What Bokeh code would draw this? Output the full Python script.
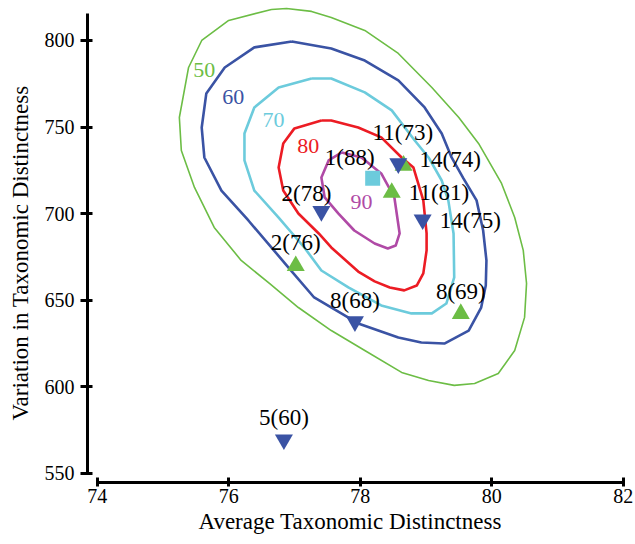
from bokeh.plotting import figure
from bokeh.models import Range1d, ColumnDataSource, Title
from bokeh.core.properties import value, field
from bokeh.embed import file_html
from bokeh.resources import INLINE

# ---------------- data ----------------
x_ticks = [74, 76, 78, 80, 82]
y_ticks = [550, 600, 650, 700, 750, 800]
x_title = "Average Taxonomic Distinctness"
y_title = "Variation in Taxonomic Distinctness"

contour_levels = ["50", "60", "70", "80", "90"]

c50_x = [76.65, 76.88, 77.26, 77.56, 78.07, 78.58, 79.09, 79.50, 79.80, 80.15, 80.35, 80.48,
         80.53, 80.50, 80.35, 80.10, 79.74, 79.43, 79.04, 78.63, 78.07, 77.56, 77.06, 76.62,
         76.19, 75.78, 75.48, 75.28, 75.25, 75.39, 75.59, 76.00, 76.65]
c50_y = [817.9, 818.5, 816.8, 813.3, 805.8, 792.5, 772.8, 755.5, 740.5, 717.4, 697.7, 678.7,
         659.6, 640.0, 620.9, 607.6, 601.8, 600.7, 603.5, 608.2, 620.9, 632.4, 645.7, 659.6,
         672.9, 692.0, 715.1, 736.4, 755.5, 784.4, 800.0, 811.6, 817.9]

c60_x = [76.96, 77.56, 78.07, 78.58, 78.98, 79.24, 79.39, 79.57, 79.77, 79.87, 79.92, 79.91,
         79.84, 79.65, 79.28, 78.93, 78.58, 77.97, 77.30, 76.91, 76.30, 75.89, 75.63, 75.59,
         75.66, 75.94, 76.39, 76.96]
c60_y = [799.4, 795.4, 788.4, 776.9, 761.3, 746.3, 732.4, 720.3, 707.6, 690.2, 672.9, 658.4,
         645.7, 632.4, 624.9, 625.5, 628.4, 636.5, 651.5, 668.8, 696.0, 713.3, 732.4, 749.7,
         769.4, 784.4, 796.0, 799.4]

c70_x = [77.26, 77.56, 78.07, 78.48, 78.83, 79.04, 79.24, 79.34, 79.42, 79.43, 79.31, 79.09,
         78.78, 78.32, 77.82, 77.41, 77.15, 76.76, 76.39, 76.24, 76.24, 76.39, 76.76, 77.26]
c70_y = [778.0, 778.0, 770.0, 759.6, 742.2, 732.4, 719.1, 707.6, 688.5, 663.1, 648.0, 642.3,
         642.3, 646.9, 657.3, 667.1, 680.4, 697.7, 713.3, 730.7, 746.3, 761.3, 772.8, 778.0]

c80_x = [77.41, 77.56, 77.97, 78.32, 78.63, 78.81, 78.96, 79.01, 79.01, 78.96, 78.86, 78.67,
         78.45, 78.22, 77.97, 77.56, 77.37, 77.06, 76.83, 76.76, 76.83, 77.00, 77.41]
c80_y = [753.8, 753.8, 749.7, 744.0, 732.4, 726.6, 707.6, 688.5, 678.7, 665.4, 658.4, 655.6,
         657.3, 660.8, 666.5, 680.4, 688.5, 700.0, 713.3, 726.6, 740.5, 749.2, 753.8]

c90_x = [77.72, 78.02, 78.32, 78.52, 78.60, 78.54, 78.42, 78.22, 77.91, 77.67, 77.46, 77.41,
         77.52, 77.72]
c90_y = [735.3, 732.4, 723.2, 709.3, 688.5, 681.5, 679.8, 682.7, 690.2, 700.0, 709.3, 720.8,
         730.7, 735.3]

contour_label_x = [75.63, 76.07, 76.68, 77.21, 78.02]
contour_label_y = [782.7, 767.1, 753.8, 738.8, 706.4]

point_labels = ["1(88)", "11(73)", "14(74)", "11(81)", "14(75)",
                "2(78)", "2(76)", "8(68)", "8(69)", "5(60)"]
point_x = [78.19, 78.58, 78.66, 78.48, 78.95, 77.41, 77.02, 77.92, 79.53, 76.84]
point_y = [720.4, 728.9, 727.8, 712.1, 696.5, 701.3, 669.8, 637.6, 642.1, 569.4]
point_group = ["mean", "down", "up", "up", "down", "down", "up", "down", "up", "down"]

# ---------------- layout / style ----------------
label_dx = [-23, 4.5, 16, 17, 17, -15, 0, 0, 0, 0]
label_dy = [-21, -31, -6, 0, 1, -18, -23, -21, -22, -22]
label_align = ["center", "center", "left", "left", "left",
               "center", "center", "center", "center", "center"]

GREEN = "#6cbd45"
BLUE = "#3a53a4"
CYAN = "#6ccbdc"
RED = "#ec1c24"
MAGENTA = "#b04aa6"
FONT = "Liberation Serif"

p = figure(width=635, height=544, output_backend="svg", toolbar_location=None,
           x_range=Range1d(73.853, 82.187), y_range=Range1d(544.6, 823.1),
           min_border_left=86, min_border_right=0, min_border_top=0, min_border_bottom=62)
p.outline_line_color = None
p.grid.visible = False
p.background_fill_color = "white"

contours = [(c50_x, c50_y, GREEN, 1.6), (c60_x, c60_y, BLUE, 2.6), (c70_x, c70_y, CYAN, 2.6),
            (c80_x, c80_y, RED, 2.6), (c90_x, c90_y, MAGENTA, 2.6)]
for cx, cy, col, lw in contours:
    p.line(cx, cy, line_color=col, line_width=lw, line_join="round")

p.text(x=contour_label_x, y=contour_label_y, text=contour_levels,
       text_color=[GREEN, BLUE, CYAN, RED, MAGENTA],
       text_font=value(FONT), text_font_size="22px",
       text_align="center", text_baseline="middle")

def subset(g):
    idx = [i for i, v in enumerate(point_group) if v == g]
    return [point_x[i] for i in idx], [point_y[i] for i in idx]

ux, uy = subset("up")
p.scatter(ux, uy, marker="triangle", size=18, fill_color=GREEN, line_color=None)
dx, dy = subset("down")
p.scatter(dx, dy, marker="inverted_triangle", size=18, fill_color=BLUE, line_color=None)
mx, my = subset("mean")
p.scatter(mx, my, marker="square", size=15, fill_color=CYAN, line_color=None)

lab_src = ColumnDataSource(dict(x=point_x, y=point_y, text=point_labels,
                                dx=label_dx, dy=label_dy, align=label_align))
p.text(x="x", y="y", text="text", source=lab_src, x_offset="dx", y_offset="dy",
       text_align=field("align"), text_baseline="middle",
       text_font=value(FONT), text_font_size="23px", text_color="black")

# axes
for ax in (p.xaxis, p.yaxis):
    ax.axis_line_width = 3
    ax.axis_line_color = "black"
    ax.major_tick_line_width = 3
    ax.major_tick_line_color = "black"
    ax.minor_tick_line_color = None
    ax.major_label_text_font = FONT
    ax.major_label_text_font_size = "20px"
    ax.major_label_text_color = "black"

p.xaxis.ticker = x_ticks
p.yaxis.ticker = y_ticks
p.xaxis.bounds = (74, 82)
p.yaxis.bounds = (550, 815.6)
p.xaxis.major_tick_in = 5
p.xaxis.major_tick_out = 4
p.xaxis.major_label_standoff = 2
p.yaxis.major_tick_in = 5
p.yaxis.major_tick_out = 7
p.yaxis.major_label_standoff = 6

# axis titles (placed as side titles so they can be offset like the original)
p.add_layout(Title(text=x_title, align="left", offset=111, standoff=6,
                   vertical_align="top", text_font=FONT, text_font_size="23px",
                   text_font_style="normal", text_color="black"), "below")
p.add_layout(Title(text=y_title, align="left", offset=62, standoff=14,
                   vertical_align="top", text_font=FONT, text_font_size="23px",
                   text_font_style="normal", text_color="black"), "left")

open("out.html", "w").write(file_html(p, INLINE))
